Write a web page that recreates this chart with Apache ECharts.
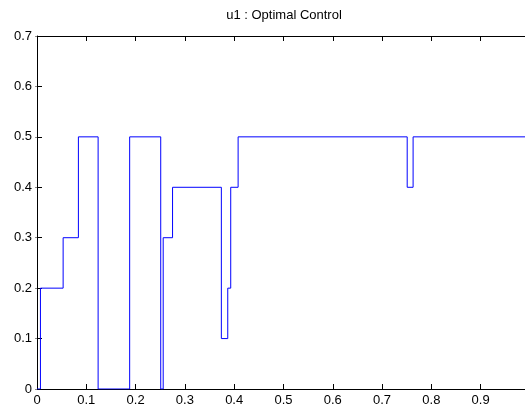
<!DOCTYPE html>
<html>
<head>
<meta charset="utf-8">
<script src="https://cdn.jsdelivr.net/npm/echarts@6/dist/echarts.min.js"></script>
<style>
html,body{margin:0;padding:0;background:#fff;}
#chart{width:525px;height:409px;}
</style>
</head>
<body>
<div id="chart"></div>
<script>
// Step-function breakpoints (time) and control value held from each breakpoint
var times  = [0, 0.007, 0.053, 0.084, 0.124, 0.188, 0.251, 0.256, 0.275, 0.374, 0.387, 0.393, 0.408, 0.751, 0.763, 0.99];
var values = [0, 0.2,   0.3,   0.5,   0,     0.5,   0,     0.3,   0.4,   0.1,   0.2,   0.4,   0.5,   0.4,   0.5,   0.5];
var xTicks = [0, 0.1, 0.2, 0.3, 0.4, 0.5, 0.6, 0.7, 0.8, 0.9];
var yTicks = [0, 0.1, 0.2, 0.3, 0.4, 0.5, 0.6, 0.7];
var titleText = 'u1 : Optimal Control';

var seriesData = times.map(function (t, i) { return [t, values[i]]; });
var font = 'Liberation Sans, Arial, sans-serif';

function fmt(v) { return String(Math.round(v * 10) / 10); }
function isTick(list, v) {
  for (var i = 0; i < list.length; i++) { if (Math.abs(list[i] - v) < 1e-6) return true; }
  return false;
}

var chart = echarts.init(document.getElementById('chart'), null, {renderer: 'canvas'});
var axisLineStyle = {color: '#000', width: 1};
chart.setOption({
  animation: false,
  backgroundColor: '#fff',
  title: {
    text: titleText,
    left: 284, top: 9, textAlign: 'center', padding: 0,
    textStyle: {fontFamily: font, fontSize: 13, fontWeight: 'normal', color: '#000'}
  },
  grid: {left: 37, top: 36, right: -1, bottom: 20, containLabel: false},
  xAxis: [{
    type: 'value', min: 0, max: 0.99, interval: 0.1, position: 'bottom',
    axisLine: {show: true, onZero: false, lineStyle: axisLineStyle},
    axisTick: {show: true, inside: true, length: 5, lineStyle: axisLineStyle},
    splitLine: {show: false},
    axisLabel: {
      show: true, showMaxLabel: false, margin: 5,
      fontFamily: font, fontSize: 13, color: '#000',
      formatter: function (v) { return isTick(xTicks, v) ? fmt(v) : ''; }
    }
  }, {
    type: 'value', min: 0, max: 0.99, interval: 0.1, position: 'top',
    axisLine: {show: true, onZero: false, lineStyle: axisLineStyle},
    axisTick: {show: true, inside: true, length: 5, lineStyle: axisLineStyle},
    splitLine: {show: false},
    axisLabel: {show: false}
  }],
  yAxis: [{
    type: 'value', min: 0, max: 0.7, interval: 0.1, position: 'left',
    axisLine: {show: true, onZero: false, lineStyle: axisLineStyle},
    axisTick: {show: true, inside: true, length: 5, lineStyle: axisLineStyle},
    splitLine: {show: false},
    axisLabel: {
      show: true, margin: 5, fontFamily: font, fontSize: 13, color: '#000',
      formatter: function (v) { return isTick(yTicks, v) ? fmt(v) : ''; }
    }
  }, {
    type: 'value', min: 0, max: 0.7, interval: 0.1, position: 'right',
    axisLine: {show: false},
    axisTick: {show: true, inside: true, length: 2, lineStyle: {color: '#888', width: 1}},
    splitLine: {show: false},
    axisLabel: {show: false}
  }],
  series: [{
    type: 'line',
    xAxisIndex: 0, yAxisIndex: 0,
    data: seriesData,
    step: 'end',
    symbol: 'none',
    lineStyle: {color: '#0000ff', width: 1},
    clip: true
  }]
});
</script>
</body>
</html>
